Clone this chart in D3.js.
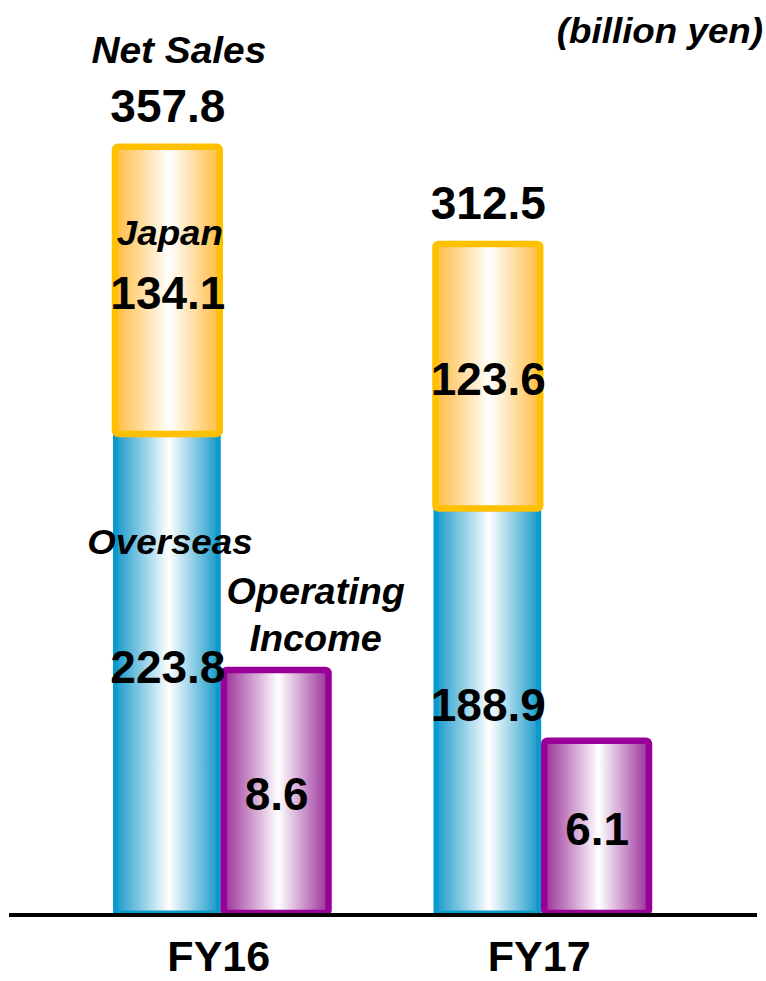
<!DOCTYPE html>
<html>
<head>
<meta charset="utf-8">
<script src="https://cdn.jsdelivr.net/npm/d3@7"></script>
<style>
  body { margin: 0; background: #fff; }
  svg text { font-family: "Liberation Sans", Arial, sans-serif; font-weight: bold; fill: #000; }
</style>
</head>
<body>
<div class="chart"></div>
<script>
const years    = ['FY16', 'FY17'];
const overseas = [223.8, 188.9];
const japan    = [134.1, 123.6];
const totals   = [357.8, 312.5];
const income   = [8.6, 6.1];

const svgSize = { width: 766, height: 981 };
const baseY = 913;

const svg = d3.select('.chart')
    .append('svg')
    .attr('width', svgSize.width)
    .attr('height', svgSize.height)
;

// gradients: coloured edges, white middle
const defs = svg.append('defs');
const grad = (id, edge) => {
    const g = defs.append('linearGradient').attr('id', id)
        .attr('x1', 0).attr('x2', 1).attr('y1', 0).attr('y2', 0);
    g.append('stop').attr('offset', '0%').attr('stop-color', edge);
    g.append('stop').attr('offset', '52%').attr('stop-color', '#fff');
    g.append('stop').attr('offset', '100%').attr('stop-color', edge);
};
grad('gBlue', '#1a9acb');
grad('gOrange', '#ffbb40');
grad('gPurple', '#9a2f99');

const xScale = d3.scaleBand()
    .domain(years)
    .range([113, 653])
    .paddingInner(0.315)
;
const xSub = d3.scaleBand()
    .domain(['sales', 'income'])
    .range([0, xScale.bandwidth()])
;

// two separate scales, as on the slide
const ySales = d3.scaleLinear().domain([0, 357.8]).range([baseY, 147]);
const yIncome = d3.scaleLinear().domain([0, 8.6]).range([baseY, 670]);

const rows = years.map((y, i) => ({
    year: y, overseas: overseas[i], japan: japan[i], total: totals[i], income: income[i]
}));

const sx = d => xScale(d.year) + xSub('sales');
const ix = d => xScale(d.year) + xSub('income');
const bw = xSub.bandwidth();

// overseas
svg.selectAll('rect.overseas').data(rows).enter()
    .append('rect')
    .attr('class', 'overseas')
    .attr('x', d => sx(d) + 2.5)
    .attr('y', d => ySales(d.overseas))
    .attr('width', bw - 7)
    .attr('height', d => baseY - ySales(d.overseas))
    .attr('fill', 'url(#gBlue)')
    .attr('stroke', '#0a9acd')
    .attr('stroke-width', 5)
;

// japan
svg.selectAll('rect.japan').data(rows).enter()
    .append('rect')
    .attr('class', 'japan')
    .attr('x', d => sx(d) + 2)
    .attr('y', d => ySales(d.overseas + d.japan))
    .attr('width', bw - 5)
    .attr('height', d => ySales(d.overseas) - ySales(d.overseas + d.japan))
    .attr('rx', 3)
    .attr('fill', 'url(#gOrange)')
    .attr('stroke', '#ffc000')
    .attr('stroke-width', 6.5)
;

// operating income
svg.selectAll('rect.income').data(rows).enter()
    .append('rect')
    .attr('class', 'income')
    .attr('x', d => ix(d) + 1)
    .attr('y', d => yIncome(d.income))
    .attr('width', bw - 5)
    .attr('height', d => baseY - yIncome(d.income))
    .attr('rx', 3)
    .attr('fill', 'url(#gPurple)')
    .attr('stroke', '#990099')
    .attr('stroke-width', 6.5)
;

// baseline
svg.append('line')
    .attr('x1', 9).attr('x2', 757)
    .attr('y1', baseY + 2).attr('y2', baseY + 2)
    .attr('stroke', '#000')
    .attr('stroke-width', 4)
;

const num = (sel, cls, xf, yf, tf) => sel.selectAll('text.' + cls).data(rows).enter()
    .append('text')
    .attr('class', cls)
    .attr('x', xf)
    .attr('y', yf)
    .attr('text-anchor', 'middle')
    .attr('font-size', 46)
    .text(tf)
;

num(svg, 'tot', d => sx(d) + bw / 2, d => ySales(d.total) - 25, d => d.total.toFixed(1));
num(svg, 'jp', d => sx(d) + bw / 2,
    d => (ySales(d.overseas) + ySales(d.overseas + d.japan)) / 2 + 19, d => d.japan.toFixed(1));
num(svg, 'ov', d => sx(d) + bw / 2,
    d => (baseY + ySales(d.overseas)) / 2 + 10, d => d.overseas.toFixed(1));
num(svg, 'inc', d => ix(d) + bw / 2 - 1,
    d => (baseY + yIncome(d.income)) / 2 + 18, d => d.income.toFixed(1));

// category labels
svg.selectAll('text.year').data(years).enter()
    .append('text')
    .attr('class', 'year')
    .attr('x', d => xScale(d) + xScale.bandwidth() / 2 - 4)
    .attr('y', 971)
    .attr('text-anchor', 'middle')
    .attr('font-size', 43)
    .text(d => d)
;

// italic annotations, slightly stretched like the slide
const note = (txt, x, y, size, anchor) => svg.append('text')
    .attr('transform', `translate(${x}, ${y}) scale(1.05, 1)`)
    .attr('text-anchor', anchor || 'middle')
    .attr('font-style', 'italic')
    .attr('font-size', size)
    .text(txt)
;

const r0 = rows[0];
note('(billion yen)', 763, 43, 35, 'end');
note('Net Sales', sx(r0) + bw / 2 + 11, 63, 37);
note('Japan', sx(r0) + bw / 2 + 2, ySales(r0.total) + 98, 35);
note('Overseas', sx(r0) + bw / 2 + 2, ySales(r0.overseas) + 120, 35);
note('Operating', ix(r0) + bw / 2 + 38, 604, 36);
note('Income', ix(r0) + bw / 2 + 38, 651, 36);
</script>
</body>
</html>
